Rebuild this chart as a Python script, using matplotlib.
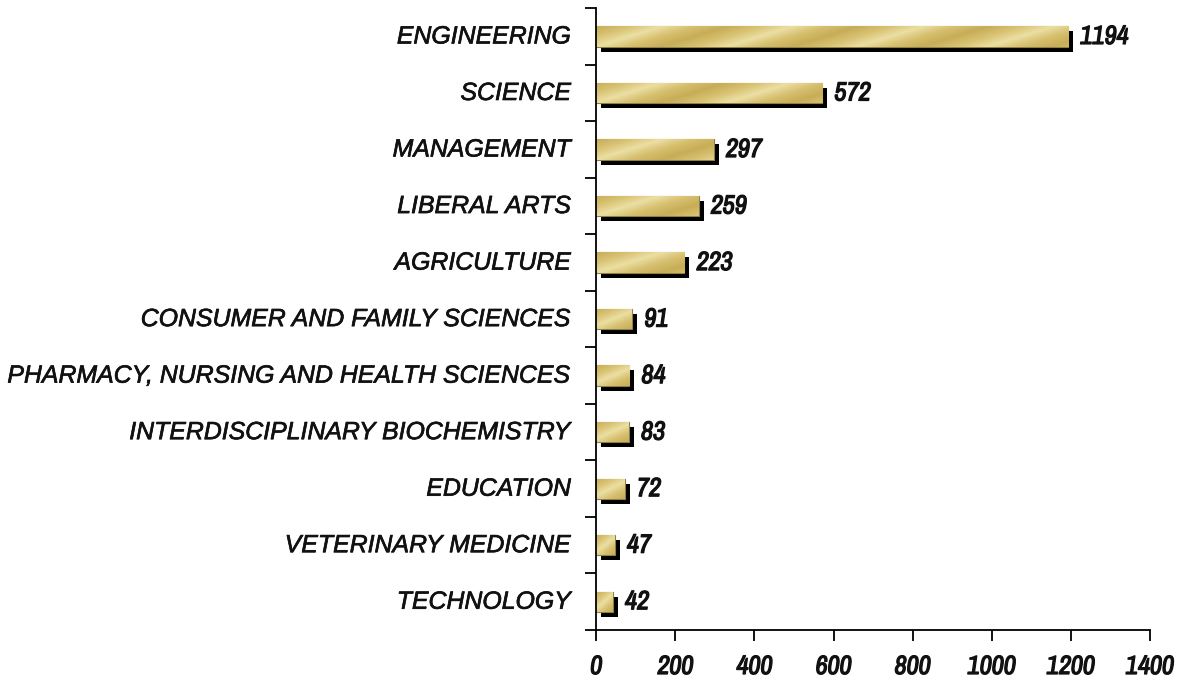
import numpy as np
import matplotlib
matplotlib.use("Agg")
import matplotlib.pyplot as plt
import matplotlib.patheffects as pe
from matplotlib.transforms import ScaledTranslation
from matplotlib.colors import LinearSegmentedColormap

categories = ["ENGINEERING", "SCIENCE", "MANAGEMENT", "LIBERAL ARTS", "AGRICULTURE",
              "CONSUMER AND FAMILY SCIENCES", "PHARMACY, NURSING AND HEALTH SCIENCES",
              "INTERDISCIPLINARY BIOCHEMISTRY", "EDUCATION", "VETERINARY MEDICINE", "TECHNOLOGY"]
values = [1194, 572, 297, 259, 223, 91, 84, 83, 72, 47, 42]
xticks = [0, 200, 400, 600, 800, 1000, 1200, 1400]

NARROW = ["Liberation Sans Narrow", "Archivo Narrow", "Liberation Sans"]
bold_fx = [pe.withStroke(linewidth=0.9, foreground="#111111")]
label_fx = [pe.withStroke(linewidth=0.5, foreground="#111111")]

fig = plt.figure(figsize=(11.83, 6.83), dpi=100)
ax = fig.add_axes([0.504, 0.0776, 0.468, 0.9104])

n = len(categories)
ypos = np.arange(n)
h = 0.36

shadow = ScaledTranslation(5/100, -5/100, fig.dpi_scale_trans)
sh = ax.barh(ypos, values, height=h, color="black", zorder=1)
for b in sh:
    b.set_transform(ax.transData + shadow)

bars = ax.barh(ypos, values, height=h, color="#D8C070", edgecolor="#8E7E48", linewidth=0.8, zorder=2)

cmap = LinearSegmentedColormap.from_list("gold", ["#C7AD57", "#D8C272", "#EBDFA3", "#D6BF6E", "#C7AD57"])
gx, gy = np.meshgrid(np.linspace(0, 1, 400), np.linspace(0, 1, 24))
for b, v, y in zip(bars, values, ypos):
    grad = (0.5 * gy + gx * max(v, 120) / 330.0) % 1.0
    im = ax.imshow(grad, cmap=cmap, aspect="auto", extent=[0, v, y + h/2, y - h/2],
                   zorder=2.5, interpolation="bilinear")
    im.set_clip_path(b)
    ax.annotate(str(v), xy=(v, y), xytext=(12, 0), textcoords="offset pixels",
                va="center", ha="left", fontsize=19, fontweight="bold",
                fontstyle="italic", family=NARROW, color="#111111", zorder=4,
                path_effects=bold_fx)

ax.set_xlim(0, 1400)
ax.set_ylim(n - 0.5, -0.5)
ax.set_xticks(xticks)
ax.set_xticklabels([str(t) for t in xticks], fontsize=19, fontweight="bold", fontstyle="italic",
                   family=NARROW, color="#111111")
for t in ax.get_xticklabels():
    t.set_path_effects(bold_fx)
ax.set_yticks(np.arange(n + 1) - 0.5)
ax.set_yticklabels([])
ax.tick_params(axis="x", direction="out", length=8, width=1.3, pad=10)
ax.tick_params(axis="y", direction="out", length=8, width=1.3)
for y, c in zip(ypos, categories):
    ax.annotate(c, xy=(0, y), xycoords=("axes fraction", "data"), xytext=(-25, 0),
                textcoords="offset pixels", ha="right", va="center",
                fontsize=17.9, fontstyle="italic", family=["Liberation Sans", "DejaVu Sans"],
                color="#111111", path_effects=label_fx)

for s in ["top", "right"]:
    ax.spines[s].set_visible(False)
for s in ["left", "bottom"]:
    ax.spines[s].set_linewidth(1.3)

fig.savefig("out.png", dpi=100)
